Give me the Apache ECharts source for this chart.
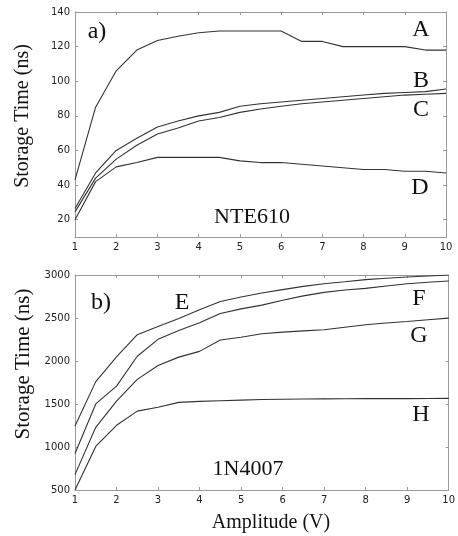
<!DOCTYPE html>
<html><head><meta charset="utf-8">
<script src="https://cdn.jsdelivr.net/npm/echarts@6/dist/echarts.min.js"></script>
<style>html,body{margin:0;padding:0;background:#fff}#c{width:458px;height:536px}</style>
</head><body><div id="c"></div>
<script>
var xs = [1,1.5,2,2.5,3,3.5,4,4.5,5,5.5,6,6.5,7,7.5,8,8.5,9,9.5,10];
// Panel a) NTE610
var seriesA = [43,85,106,118,123.5,126,128,129,129,129,129,123,123,120,120,120,120,118,118];
var seriesB = [26.5,47,60,67,73.5,77,80,82,85.5,87,88,89,90,91,92,93,93.5,94,95.5];
var seriesC = [24.5,44,55,63,69.5,73,77,79,82,84,85.5,87,88,89,90,91,92,92.5,93];
var seriesD = [20,42,50.5,53,56,56,56,56,54,53,53,52,51,50,49,49,48,48,47];
// Panel b) 1N4007
var seriesE = [1245,1760,2048,2306,2400,2495,2596,2692,2744,2790,2830,2868,2899,2922,2946,2962,2977,2988,3000];
var seriesF = [924,1501,1708,2055,2252,2355,2446,2553,2606,2650,2707,2757,2798,2825,2845,2872,2899,2915,2930];
var seriesG = [679,1229,1534,1786,1948,2045,2112,2245,2276,2316,2336,2350,2363,2393,2422,2441,2460,2480,2499];
var seriesH = [500,1006,1252,1417,1462,1519,1530,1537,1545,1552,1556,1558,1560,1561,1562,1563,1563,1564,1565];
var yTicksTop = [20,40,60,80,100,120,140];

function pairs(v){ return xs.map(function(x,i){ return [x, v[i]]; }); }
var axisGray = '#9a9a9a';
var labelFont = {color:'#222', fontFamily:'DejaVu Sans', fontSize:10, formatter:function(v){ return String(v); }};
function xAx(grid, pos, showLabel){
  return {type:'value', gridIndex:grid, position:pos, min:1, max:10, interval:1,
    axisLine:{show:true, onZero:false, lineStyle:{color:axisGray}},
    axisTick:{show:true, inside:true, length:3, lineStyle:{color:axisGray}},
    axisLabel:Object.assign({show:showLabel, margin:5}, labelFont),
    splitLine:{show:false}};
}
function yAx(grid, pos, showLabel, min, max, interval, custom){
  var o = {type:'value', gridIndex:grid, position:pos, min:min, max:max, interval:interval,
    axisLine:{show:true, onZero:false, lineStyle:{color:axisGray}},
    axisTick:{show:true, inside:true, length:3, lineStyle:{color:axisGray}},
    axisLabel:Object.assign({show:showLabel, margin:5}, labelFont),
    splitLine:{show:false}};
  if (custom){ o.axisTick.customValues = custom; o.axisLabel.customValues = custom; }
  return o;
}
function ser(v, xi, yi){
  return {type:'line', xAxisIndex:xi, yAxisIndex:yi, data:pairs(v), symbol:'none',
    lineStyle:{color:'#333', width:1.1}, silent:true, animation:false};
}
function txt(x, y, s, size, rot){
  return {type:'text', x:x, y:y, rotation:rot||0,
    style:{text:s, font:size+'px "Liberation Serif"', fill:'#111', align:'center', verticalAlign:'middle'}};
}
var chart = echarts.init(document.getElementById('c'), null, {renderer:'canvas'});
chart.setOption({
  animation:false,
  grid:[{left:75, top:12, width:371, height:225},
        {left:75, top:275, width:377, height:215}],
  xAxis:[xAx(0,'bottom',true), xAx(0,'top',false), xAx(1,'bottom',true), xAx(1,'top',false)],
  yAxis:[yAx(0,'left',true,10,140,10,yTicksTop), yAx(0,'right',false,10,140,10,yTicksTop),
         yAx(1,'left',true,500,3000,500), yAx(1,'right',false,500,3000,500)],
  series:[ser(seriesA,0,0), ser(seriesB,0,0), ser(seriesC,0,0), ser(seriesD,0,0),
          ser(seriesE,2,2), ser(seriesF,2,2), ser(seriesG,2,2), ser(seriesH,2,2)],
  graphic:[
    txt(23, 116, 'Storage Time (ns)', 20, Math.PI/2),
    txt(23, 364, 'Storage Time (ns)', 21, Math.PI/2),
    txt(271, 523, 'Amplitude (V)', 20),
    txt(97, 32, 'a)', 24),
    txt(421, 30, 'A', 24),
    txt(421, 81, 'B', 24),
    txt(421, 110, 'C', 24),
    txt(420, 188, 'D', 24),
    txt(252, 217, 'NTE610', 22),
    txt(101, 303, 'b)', 24),
    txt(182, 303, 'E', 24),
    txt(419, 299, 'F', 24),
    txt(419, 336, 'G', 24),
    txt(421, 415, 'H', 24),
    txt(248, 469, '1N4007', 22)
  ]
});
</script></body></html>
